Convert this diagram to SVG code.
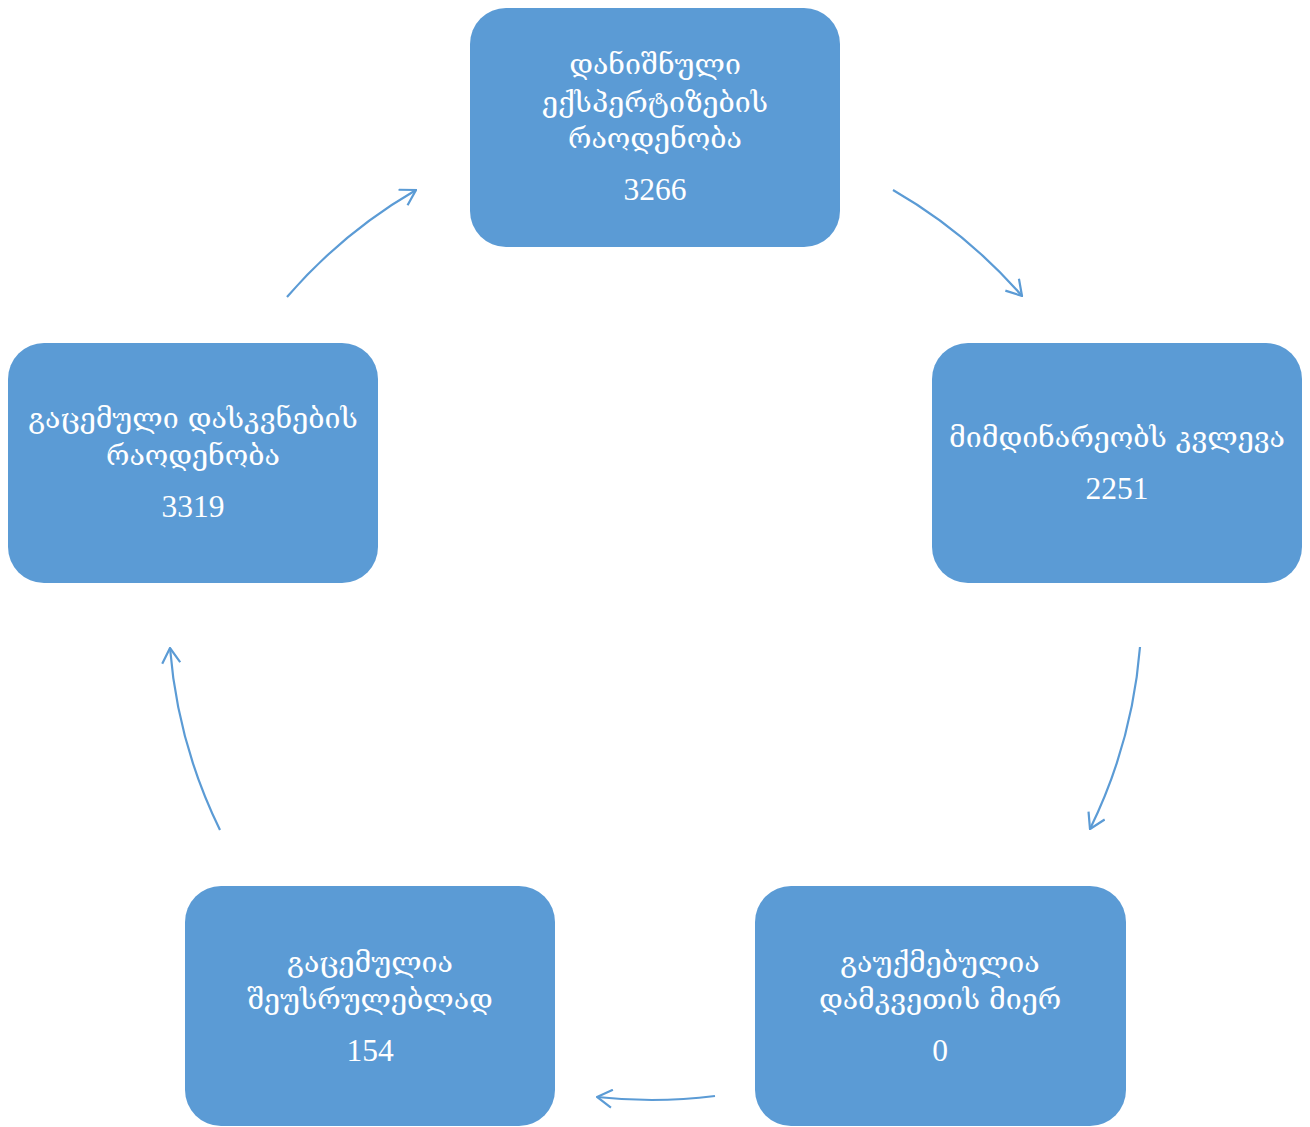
<svg xmlns="http://www.w3.org/2000/svg" width="1310" height="1127" viewBox="0 0 1310 1127">
<style>
.box{fill:#5B9BD5;}
.t{fill:#ffffff;font-family:"DejaVu Serif","Liberation Serif",serif;font-size:28.5px;text-anchor:middle;}
.n{fill:#ffffff;font-family:"Liberation Serif","DejaVu Serif",serif;font-size:31.5px;text-anchor:middle;}
.c{fill:none;stroke:#5B9BD5;stroke-width:2.2;}
</style>
<defs>
<marker id="ah" viewBox="0 0 20 20" refX="19" refY="10" markerWidth="20" markerHeight="20" markerUnits="userSpaceOnUse" orient="auto">
<path d="M4,1 L19,10 L4,19" fill="none" stroke="#5B9BD5" stroke-width="2.2"/>
</marker>
</defs>
<rect width="1310" height="1127" fill="#ffffff"/>
<g id="connectors">
<path class="c" marker-end="url(#ah)" d="M893,190 A505,505 0 0 1 1022,296"/>
<path class="c" marker-end="url(#ah)" d="M1140,647 A505,505 0 0 1 1090,829"/>
<path class="c" marker-end="url(#ah)" d="M715,1096 A505,505 0 0 1 597,1097"/>
<path class="c" marker-end="url(#ah)" d="M220,830 A505,505 0 0 1 170,648"/>
<path class="c" marker-end="url(#ah)" d="M287,297 A505,505 0 0 1 416,190"/>
</g>
<g id="node1">
<rect class="box" x="470" y="8" width="370" height="239" rx="36"/>
<text class="t" x="655" y="74">დანიშნული</text>
<text class="t" x="655" y="112">ექსპერტიზების</text>
<text class="t" x="655" y="148">რაოდენობა</text>
<text class="n" x="655" y="200">3266</text>
</g>
<g id="node2">
<rect class="box" x="932" y="343" width="370" height="240" rx="36"/>
<text class="t" x="1117" y="447">მიმდინარეობს კვლევა</text>
<text class="n" x="1117" y="499">2251</text>
</g>
<g id="node3">
<rect class="box" x="755" y="886" width="371" height="240" rx="36"/>
<text class="t" x="940" y="972">გაუქმებულია</text>
<text class="t" x="940" y="1009">დამკვეთის მიერ</text>
<text class="n" x="940" y="1061">0</text>
</g>
<g id="node4">
<rect class="box" x="185" y="886" width="370" height="240" rx="36"/>
<text class="t" x="370" y="972">გაცემულია</text>
<text class="t" x="370" y="1009">შეუსრულებლად</text>
<text class="n" x="370" y="1061">154</text>
</g>
<g id="node5">
<rect class="box" x="8" y="343" width="370" height="240" rx="36"/>
<text class="t" x="193" y="428">გაცემული დასკვნების</text>
<text class="t" x="193" y="465">რაოდენობა</text>
<text class="n" x="193" y="517">3319</text>
</g>
</svg>
